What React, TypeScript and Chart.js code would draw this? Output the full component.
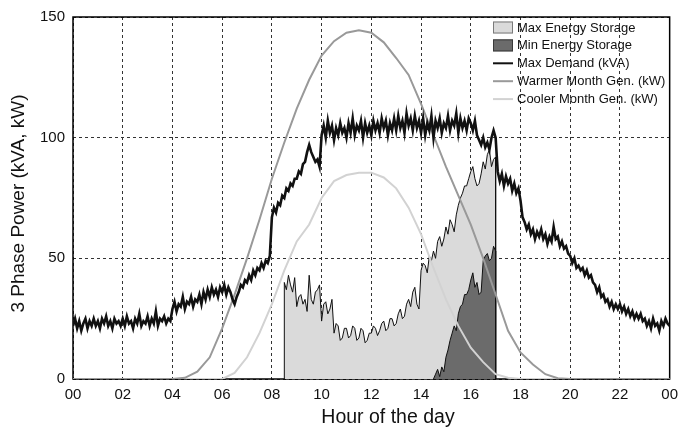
import React, { useEffect, useRef } from "react";
import { Chart, registerables } from "chart.js";

Chart.register(...registerables);

// ---------- data ----------
const X_TICKS = [0, 2, 4, 6, 8, 10, 12, 14, 16, 18, 20, 22, 24];
const X_TICK_LABELS = ["00", "02", "04", "06", "08", "10", "12", "14", "16", "18", "20", "22", "00"];
const Y_TICKS = [0, 50, 100, 150];
const X_TITLE = "Hour of the day";
const Y_TITLE = "3 Phase Power (kVA, kW)";

// Max demand (kVA), one value every 5 minutes from 00:00 to 24:00
const DEMAND_STEP_H = 1 / 12;
const MAX_DEMAND = [
  22, 25, 21, 24, 20, 23, 25, 21, 24, 22, 25, 22,
  24, 21, 25, 23, 26, 22, 24, 21, 25, 23, 24, 22,
  25, 22, 26, 23, 24, 21, 25, 23, 27, 22, 24, 23,
  26, 22, 25, 23, 28, 22, 25, 24, 26, 23, 25, 24,
  29, 32, 28, 31, 30, 34, 29, 32, 31, 34, 30, 33,
  32, 35, 31, 36, 33, 37, 34, 38, 35, 37, 34, 38,
  36, 39, 35, 38, 36, 33, 31, 34, 36, 39, 38, 41,
  40, 43, 41, 45, 43, 46, 45, 48, 46, 49, 48, 51,
  67, 71, 69, 73, 72, 76, 75, 79, 78, 81, 80, 83,
  83, 86, 85, 89, 90, 94, 97, 94, 92, 90, 91, 88,
  101, 105, 100, 107, 102, 105, 99, 104, 101, 106, 102, 104,
  100, 106, 102, 108, 101, 105, 103, 107, 100, 106, 102, 105,
  101, 107, 103, 106, 102, 108, 104, 107, 101, 106, 103, 108,
  103, 109, 104, 107, 102, 110, 105, 108, 103, 109, 104, 107,
  102, 108, 101, 106, 103, 109, 100, 107, 104, 108, 102, 106,
  104, 109, 103, 107, 105, 110, 102, 108, 104, 107, 103, 108,
  106, 103, 107, 101, 99, 97, 100, 96, 98, 95, 100, 103,
  100, 86, 82, 85, 80, 84, 81, 83, 78, 81, 77, 79,
  74, 67, 65, 62, 64, 60, 62, 58, 61, 59, 62, 58,
  60, 56, 59, 57, 63, 58, 59, 55, 57, 54, 55, 52,
  51, 48, 50, 46, 47, 45, 46, 43, 45, 42, 43, 40,
  39, 36, 38, 34, 35, 32, 33, 30, 32, 29, 31, 29,
  31, 28, 30, 27, 29, 26, 28, 25, 27, 25, 27, 24,
  25, 22, 24, 21, 25, 22, 23, 20, 24, 22, 25, 23,
  22,
];

// Generation (kW), one value every 30 minutes from 00:00 to 24:00
const GEN_STEP_H = 0.5;
const WARMER_GEN = [
  0, 0, 0, 0, 0, 0, 0, 0, 0,
  0.5, 3, 9, 21, 35, 50, 66, 83, 98, 112, 124, 134, 140, 143.5, 144.5, 143.5,
  139.5, 133, 126, 114, 101, 88, 76, 64, 50, 35, 20, 11, 6, 2, 0.3,
  0, 0, 0, 0, 0, 0, 0, 0, 0,
];
const COOLER_GEN = [
  0, 0, 0, 0, 0, 0, 0, 0, 0, 0, 0, 0, 0,
  2.5, 9, 19, 31, 45, 57, 64, 75, 82, 84.5, 85.5, 85.5, 83.5, 79, 71, 60, 46,
  33, 22, 13, 7, 2, 0.5,
  0, 0, 0, 0, 0, 0, 0, 0, 0, 0, 0, 0, 0,
];

// Storage envelopes, one value every 5 minutes
const STORAGE_STEP_H = 1 / 12;
const MAX_STORAGE_START_H = 8.5;
const MAX_STORAGE = [
  40, 37, 43, 39, 36, 42,
  30, 34, 35, 31, 33, 28,
  43, 33, 31, 36, 37, 39,
  24, 31, 32, 27, 29, 33,
  19, 23, 22, 16, 17, 21,
  21, 17, 18, 22, 21, 16,
  17, 21, 20, 15, 16, 19,
  19, 22, 21, 18, 20, 23,
  24, 20, 21, 25, 25, 22,
  23, 27, 29, 25, 26, 31,
  33, 30, 36, 38, 31, 29,
  45, 48, 47, 44, 51, 49,
  53, 50, 57, 59, 55, 58,
  63, 60, 66, 64, 61, 68,
  72, 75, 77, 80, 80, 83,
  86, 88, 83, 80, 81, 85,
  90, 87, 93, 95, 88, 91,
  92,
];
const MIN_STORAGE_START_H = 14.5;
const MIN_STORAGE = [
  0, 2, 4, 1, 5, 3,
  9, 12, 16, 19, 22, 20,
  27, 30, 31, 35, 35, 37,
  41, 44, 38, 40, 35, 36,
  49, 51, 52, 49, 50, 55,
  53,
];

const FONT = "'Liberation Sans', Arial, Helvetica, sans-serif";

function series(values: number[], start: number, step: number) {
  return values.map((v, i) => ({ x: start + i * step, y: v }));
}
function closedArea(values: number[], start: number, step: number) {
  const pts = series(values, start, step);
  const end = start + (values.length - 1) * step;
  return [{ x: start, y: 0 }, ...pts, { x: end, y: 0 }];
}

const framePlugin = {
  id: "frame",
  beforeDatasetsDraw(chart: any) {
    const { ctx, chartArea: a } = chart;
    ctx.save();
    ctx.strokeStyle = "#000";
    ctx.lineWidth = 1.5;
    ctx.strokeRect(a.left, a.top, a.right - a.left, a.bottom - a.top);
    ctx.restore();
  },
};

const titlesPlugin = {
  id: "axisTitles",
  afterDraw(chart: any) {
    const { ctx } = chart;
    ctx.save();
    ctx.fillStyle = "#111";
    ctx.font = `19.5px ${FONT}`;
    ctx.textAlign = "center";
    ctx.textBaseline = "alphabetic";
    ctx.fillText(X_TITLE, 388, 423);
    ctx.font = `19px ${FONT}`;
    ctx.translate(23.5, 203.5);
    ctx.rotate(-Math.PI / 2);
    ctx.fillText(Y_TITLE, 0, 0);
    ctx.restore();
  },
};

const legendPlugin = {
  id: "boxLegend",
  afterDraw(chart: any) {
    const { ctx } = chart;
    const x0 = 493;
    const y0 = 27.5;
    const dy = 17.9;
    ctx.save();
    ctx.font = `13px ${FONT}`;
    ctx.textBaseline = "middle";
    ctx.textAlign = "left";
    chart.data.datasets.forEach((ds: any, i: number) => {
      const y = y0 + i * dy;
      if (ds.legendKind === "box") {
        ctx.fillStyle = ds.backgroundColor;
        ctx.fillRect(x0, y - 6, 20, 12);
        ctx.strokeStyle = ds.legendEdge;
        ctx.lineWidth = 1;
        ctx.strokeRect(x0 + 0.5, y - 5.5, 19, 11);
      } else {
        ctx.strokeStyle = ds.borderColor;
        ctx.lineWidth = 2;
        ctx.beginPath();
        ctx.moveTo(x0, y);
        ctx.lineTo(x0 + 20, y);
        ctx.stroke();
      }
      ctx.fillStyle = "#111";
      ctx.fillText(ds.label, x0 + 24, y + 0.5);
    });
    ctx.restore();
  },
};

export default function App() {
  const ref = useRef<HTMLCanvasElement | null>(null);

  useEffect(() => {
    document.body.style.margin = "0";
    const canvas = ref.current;
    if (!canvas) return;
    const chart = new Chart(canvas, {
      type: "line",
      data: {
        datasets: [
          {
            label: "Max Energy Storage",
            legendKind: "box",
            legendEdge: "#7a7a7a",
            data: closedArea(MAX_STORAGE, MAX_STORAGE_START_H, STORAGE_STEP_H),
            borderColor: "#111",
            borderWidth: 1,
            backgroundColor: "#dadada",
            fill: "origin",
            pointRadius: 0,
            tension: 0,
            order: 4,
          },
          {
            label: "Min Energy Storage",
            legendKind: "box",
            legendEdge: "#3a3a3a",
            data: closedArea(MIN_STORAGE, MIN_STORAGE_START_H, STORAGE_STEP_H),
            borderColor: "#111",
            borderWidth: 1,
            backgroundColor: "#6b6b6b",
            fill: "origin",
            pointRadius: 0,
            tension: 0,
            order: 3,
          },
          {
            label: "Max Demand (kVA)",
            legendKind: "line",
            data: series(MAX_DEMAND, 0, DEMAND_STEP_H),
            borderColor: "#111",
            borderWidth: 2.6,
            pointRadius: 0,
            fill: false,
            tension: 0,
            order: 0,
          },
          {
            label: "Warmer Month Gen. (kW)",
            legendKind: "line",
            data: series(WARMER_GEN, 0, GEN_STEP_H),
            borderColor: "#999999",
            borderWidth: 2,
            pointRadius: 0,
            fill: false,
            tension: 0,
            order: 1,
          },
          {
            label: "Cooler Month Gen. (kW)",
            legendKind: "line",
            data: series(COOLER_GEN, 0, GEN_STEP_H),
            borderColor: "#d2d2d2",
            borderWidth: 2,
            pointRadius: 0,
            fill: false,
            tension: 0,
            order: 2,
          },
        ] as any,
      },
      options: {
        responsive: false,
        animation: false,
        events: [],
        layout: { padding: { left: 0, right: 11, top: 14, bottom: 0 } },
        plugins: {
          legend: { display: false },
          tooltip: { enabled: false },
        },
        scales: {
          x: {
            type: "linear",
            min: 0,
            max: 24,
            afterFit: (s: any) => {
              s.height = 52;
            },
            afterBuildTicks: (s: any) => {
              s.ticks = X_TICKS.map((v) => ({ value: v }));
            },
            ticks: {
              autoSkip: false,
              maxRotation: 0,
              padding: 7,
              color: "#111",
              font: { family: FONT, size: 15 },
              callback: (v: any) => X_TICK_LABELS[X_TICKS.indexOf(Number(v))] ?? "",
            },
            grid: { color: "#333", lineWidth: 1, drawTicks: false },
            border: { display: false, dash: [3, 3] },
            title: { display: false },
          },
          y: {
            min: 0,
            max: 150,
            afterFit: (s: any) => {
              s.width = 73;
            },
            afterBuildTicks: (s: any) => {
              s.ticks = Y_TICKS.map((v) => ({ value: v }));
            },
            ticks: {
              padding: 8,
              color: "#111",
              font: { family: FONT, size: 15 },
            },
            grid: { color: "#333", lineWidth: 1, drawTicks: false },
            border: { display: false, dash: [3, 3] },
            title: { display: false },
          },
        },
      },
      plugins: [framePlugin, legendPlugin, titlesPlugin],
    } as any);
    return () => chart.destroy();
  }, []);

  return (
    <div style={{ width: 685, height: 431 }}>
      <canvas ref={ref} width={685} height={431} style={{ display: "block" }} />
    </div>
  );
}
